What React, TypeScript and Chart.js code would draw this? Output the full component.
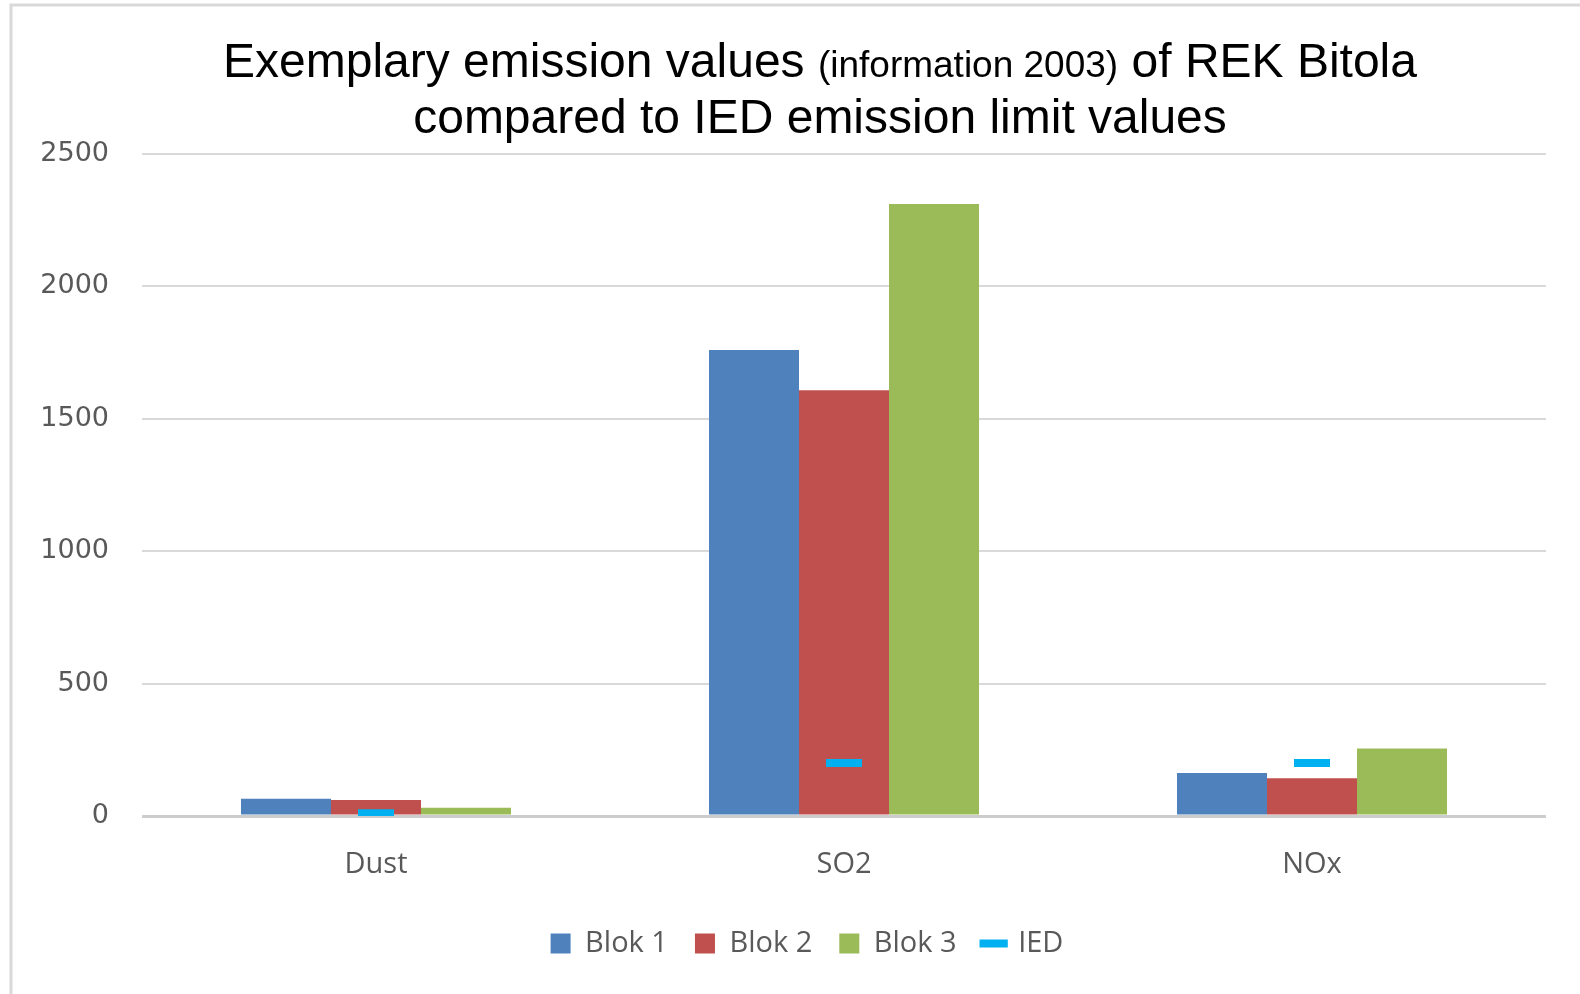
import React, { useEffect, useRef } from "react";
import { Chart, registerables } from "chart.js";

Chart.register(...registerables);

const categories = ["Dust", "SO2", "NOx"];
const blok1 = [65, 1760, 162];
const blok2 = [60, 1608, 143];
const blok3 = [31, 2311, 255];
const ied = [10, 200, 200];
const yTicks = [0, 500, 1000, 1500, 2000, 2500];
const titleLine1 = ["Exemplary emission values ", "(information 2003)", " of REK Bitola"];
const titleLine2 = "compared to IED emission limit values";

const frameAndTitle = {
  id: "frameAndTitle",
  afterLayout(chart: any) {
    // shift the legend box so it is centred like the original
    if (chart.legend) {
      chart.legend.left = 68;
    }
  },
  beforeDraw(chart: any) {
    const ctx = chart.ctx;
    ctx.save();
    ctx.fillStyle = "#ffffff";
    ctx.fillRect(0, 0, chart.width, chart.height);
    ctx.strokeStyle = "#d9d9d9";
    ctx.lineWidth = 3;
    ctx.beginPath();
    ctx.moveTo(11, chart.height);
    ctx.lineTo(11, 5);
    ctx.lineTo(chart.width, 5);
    ctx.stroke();
    ctx.restore();
  },
  afterDraw(chart: any) {
    const ctx = chart.ctx;
    ctx.save();
    ctx.fillStyle = "#000000";
    ctx.textBaseline = "alphabetic";
    const big = '48px "Liberation Sans", Arial, sans-serif';
    const small = '37px "Liberation Sans", Arial, sans-serif';
    const fonts = [big, small, big];
    let total = 0;
    const widths: number[] = [];
    titleLine1.forEach((t, i) => {
      ctx.font = fonts[i];
      const w = ctx.measureText(t).width;
      widths.push(w);
      total += w;
    });
    const cx = 820;
    let x = cx - total / 2;
    ctx.textAlign = "left";
    titleLine1.forEach((t, i) => {
      ctx.font = fonts[i];
      ctx.fillText(t, x, 77);
      x += widths[i];
    });
    ctx.font = big;
    ctx.textAlign = "center";
    ctx.fillText(titleLine2, cx, 133);
    ctx.restore();
  },
};

export default function App() {
  const ref = useRef<HTMLCanvasElement>(null);
  useEffect(() => {
    if (!ref.current) return;
    const chart = new Chart(ref.current, {
      type: "bar",
      data: {
        labels: categories,
        datasets: [
          { label: "Blok 1", data: blok1, backgroundColor: "#4F81BD", borderWidth: 0, pointStyle: "rect", order: 1 } as any,
          { label: "Blok 2", data: blok2, backgroundColor: "#C0504D", borderWidth: 0, pointStyle: "rect", order: 1 } as any,
          { label: "Blok 3", data: blok3, backgroundColor: "#9BBB59", borderWidth: 0, pointStyle: "rect", order: 1 } as any,
          {
            type: "line",
            label: "IED",
            data: ied,
            showLine: false,
            borderColor: "#00B0F0",
            backgroundColor: "#00B0F0",
            pointStyle: "line",
            pointRadius: 18,
            pointBorderWidth: 8,
            borderWidth: 7,
            pointBorderColor: "#00B0F0",
            order: 0,
          } as any,
        ],
      },
      options: {
        responsive: false,
        animation: false,
        layout: { padding: { top: 154, right: 34, bottom: 26, left: 0 } },
        datasets: { bar: { categoryPercentage: 0.577, barPercentage: 1 } } as any,
        plugins: {
          title: { display: false },
          tooltip: { enabled: false },
          legend: {
            position: "bottom",
            labels: {
              usePointStyle: true,
              boxWidth: 20,
              boxHeight: 20,
              padding: 27,
              color: "#595959",
              font: { family: "Open Sans", size: 29 },
              sort: (a: any, b: any) => a.datasetIndex - b.datasetIndex,
            },
          },
        },
        scales: {
          x: {
            grid: { display: false, drawTicks: false },
            border: { display: false },
            ticks: { color: "#595959", font: { family: "Open Sans", size: 29 }, padding: 31 },
            afterFit: (s: any) => { s.height = 86; },
          },
          y: {
            min: 0,
            max: 2500,
            afterBuildTicks: (s: any) => { s.ticks = yTicks.map((v) => ({ value: v })); },
            grid: {
              drawTicks: false,
              color: (c: any) => (c.tick && c.tick.value === 0 ? "#cccccc" : "#d9d9d9"),
              lineWidth: (c: any) => (c.tick && c.tick.value === 0 ? 3 : 2),
            },
            border: { display: false },
            ticks: {
              color: "#595959",
              font: { family: "DejaVu Sans", size: 27 },
              padding: 33,
              callback: (v: any) => String(v),
            },
            afterFit: (s: any) => { s.width = 142; },
          },
        },
      },
      plugins: [frameAndTitle],
    });
    return () => chart.destroy();
  }, []);
  return (
    <div style={{ position: "absolute", left: 0, top: 0, width: 1580, height: 994, background: "#fff" }}>
      <canvas ref={ref} width={1580} height={994} />
    </div>
  );
}
